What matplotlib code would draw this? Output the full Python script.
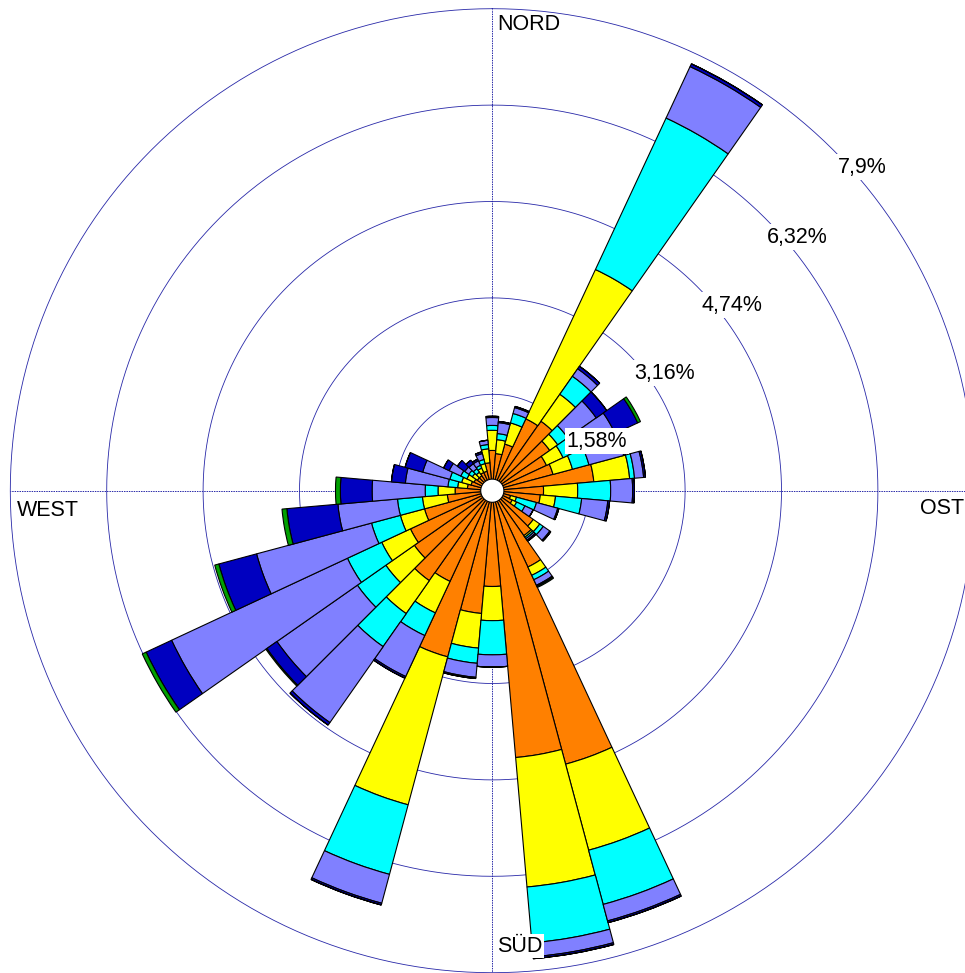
import numpy as np
import matplotlib
matplotlib.use("Agg")
import matplotlib.pyplot as plt

plt.rcParams['font.family'] = ['Liberation Sans', 'DejaVu Sans']

# Directions (degrees, clockwise from north)
directions = list(range(0, 360, 10))

# Frequency (%) per wind-speed class and direction
cls1 = [0.66, 0.61, 0.79, 1.30, 1.39, 1.15, 0.98, 1.03, 1.67, 0.84, 0.79, 0.31,
        0.36, 0.82, 0.90, 1.38, 4.64, 4.39, 1.57, 2.02, 2.82, 1.64, 1.80, 1.56,
        1.48, 1.15, 0.74, 0.61, 0.41, 0.36, 0.33, 0.30, 0.30, 0.33, 0.33, 0.46]
cls2 = [0.33, 0.23, 0.36, 2.70, 0.54, 0.16, 0.30, 0.33, 0.59, 0.56, 0.25, 0.10,
        0.08, 0.13, 0.03, 0.15, 1.46, 2.13, 0.56, 0.57, 2.51, 0.57, 0.66, 0.57,
        0.52, 0.41, 0.41, 0.28, 0.16, 0.16, 0.13, 0.10, 0.07, 0.08, 0.13, 0.23]
cls3 = [0.08, 0.10, 0.16, 2.74, 0.36, 0.20, 0.28, 0.28, 0.08, 0.54, 0.43, 0.34,
        0.15, 0.07, 0.03, 0.08, 0.92, 0.92, 0.56, 0.25, 1.18, 0.41, 0.66, 0.57,
        0.62, 0.49, 0.41, 0.21, 0.16, 0.20, 0.11, 0.07, 0.07, 0.05, 0.07, 0.07]
cls4 = [0.13, 0.18, 0.10, 0.93, 0.15, 0.57, 0.66, 0.59, 0.15, 0.36, 0.43, 0.36,
        0.15, 0.13, 0.03, 0.10, 0.28, 0.23, 0.20, 0.23, 0.49, 0.74, 1.52, 1.61,
        3.18, 1.95, 0.98, 0.87, 0.70, 0.46, 0.21, 0.08, 0.10, 0.08, 0.10, 0.07]
cls5 = [0.02, 0.02, 0.02, 0.05, 0.05, 0.21, 0.41, 0.03, 0.03, 0.03, 0.03, 0.02,
        0.00, 0.02, 0.02, 0.02, 0.03, 0.03, 0.00, 0.02, 0.03, 0.03, 0.05, 0.20,
        0.46, 0.64, 0.84, 0.52, 0.23, 0.30, 0.10, 0.15, 0.07, 0.03, 0.03, 0.00]
cls6 = [0.00, 0.00, 0.00, 0.00, 0.00, 0.00, 0.05, 0.00, 0.00, 0.00, 0.00, 0.00,
        0.00, 0.00, 0.00, 0.02, 0.00, 0.00, 0.00, 0.00, 0.00, 0.00, 0.00, 0.02,
        0.07, 0.07, 0.08, 0.08, 0.00, 0.00, 0.00, 0.00, 0.00, 0.00, 0.00, 0.00]

classes = [cls1, cls2, cls3, cls4, cls5, cls6]
colors = ['#FF8000', '#FFFF00', '#00FFFF', '#8080FF', '#0000C0', '#00A000']

ring_values = [1.58, 3.16, 4.74, 6.32, 7.9]
ring_labels = ['1,58%', '3,16%', '4,74%', '6,32%', '7,9%']
calm_radius = 0.19

W, H = 965, 973
fig = plt.figure(figsize=(W / 100, H / 100), dpi=100)
cx, cy, R = 492.3, 490.7, 482.0
ax = fig.add_axes([(cx - R) / W, (H - cy - R) / H, 2 * R / W, 2 * R / H],
                  projection='polar')
ax.set_theta_zero_location('N')
ax.set_theta_direction(-1)
ax.set_ylim(0, 7.9)
ax.set_xticks([])
ax.set_yticks([])
ax.grid(False)
ax.spines['polar'].set_visible(False)
ax.patch.set_visible(False)

grid_col = '#2828A8'
tt = np.linspace(0, 2 * np.pi, 721)
for rv in ring_values:
    ax.plot(tt, [rv] * len(tt), color=grid_col, lw=0.6, zorder=0, clip_on=False)
for ang in [0, np.pi / 2, np.pi, 3 * np.pi / 2]:
    ax.plot([ang, ang], [0, 7.9], color=grid_col, lw=0.7, ls=(0, (1.5, 1)), zorder=0,
            clip_on=False)

theta = np.deg2rad(directions)
width = np.deg2rad(10)
bottom = np.zeros(len(directions))
for vals, col in zip(classes, colors):
    v = np.array(vals)
    ax.bar(theta, v, width=width, bottom=bottom, color=col, edgecolor='black',
           linewidth=0.8, zorder=2, align='center')
    bottom = bottom + v

ax.fill(tt, [calm_radius] * len(tt), facecolor='white', edgecolor='black',
        linewidth=0.8, zorder=3)

label_pos = [(597, 441), (665, 373), (732, 305), (797, 237), (862, 167)]
for (px, py), lab in zip(label_pos, ring_labels):
    fig.text(px / W, 1 - py / H, lab, ha='center', va='center', fontsize=15.5,
             zorder=5, bbox=dict(facecolor='white', edgecolor='none', pad=1.5))

fig.text(497 / W, 1 - 25 / H, 'NORD', ha='left', va='center', fontsize=15.5)
fig.text(17 / W, 1 - 510 / H, 'WEST', ha='left', va='center', fontsize=15.5)
fig.text(920 / W, 1 - 508 / H, 'OST', ha='left', va='center', fontsize=15.5)
fig.text(497 / W, 1 - 946 / H, 'SÜD', ha='left', va='center', fontsize=15.5,
         bbox=dict(facecolor='white', edgecolor='none', pad=1))

fig.savefig('out.png', dpi=100)
